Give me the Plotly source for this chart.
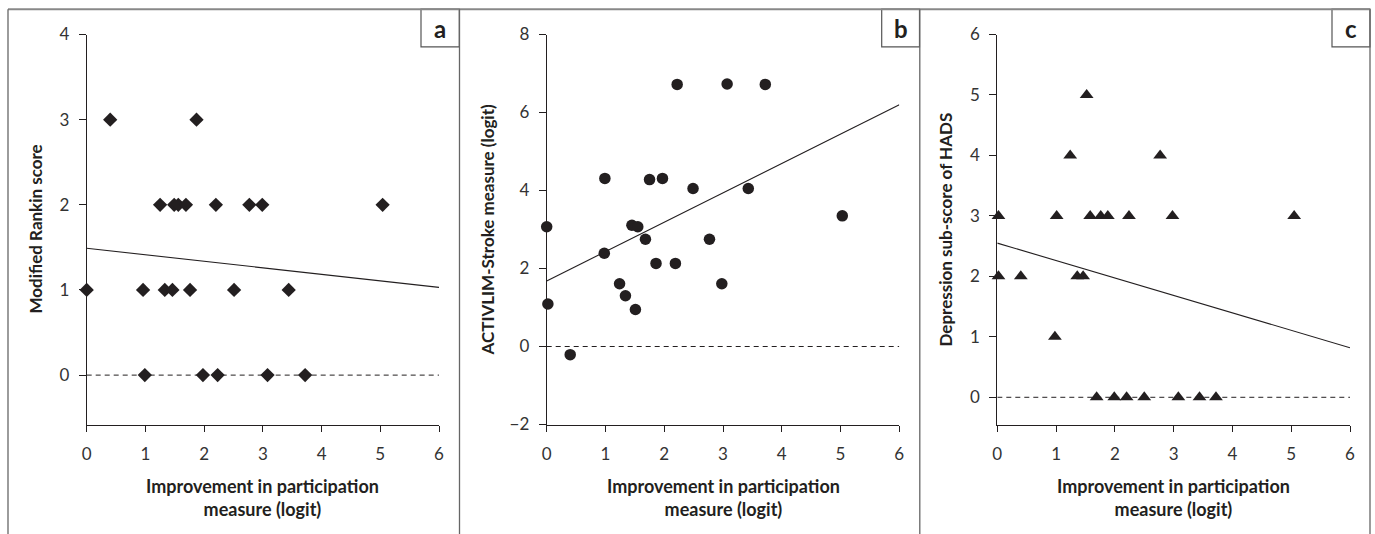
import plotly.graph_objects as go

W, H = 1375, 534

# ---------------- data ----------------
a_x = [0.00, 0.40, 1.87, 1.25, 1.49, 1.56, 1.69, 2.20, 2.77, 2.99, 5.04,
       0.96, 1.33, 1.46, 1.76, 2.51, 3.44, 0.99, 1.98, 2.23, 3.08, 3.72]
a_y = [1, 3, 3, 2, 2, 2, 2, 2, 2, 2, 2,
       1, 1, 1, 1, 1, 1, 0, 0, 0, 0, 0]

b_x = [2.22, 3.07, 3.72, 0.99, 1.75, 1.97, 2.49, 3.43, 5.03, 0.00, 1.45, 1.55,
       1.68, 2.77, 0.98, 1.86, 2.19, 1.24, 2.98, 1.34, 1.51, 0.02, 0.40]
b_y = [6.72, 6.73, 6.72, 4.31, 4.28, 4.31, 4.05, 4.05, 3.35, 3.07, 3.11, 3.07,
       2.75, 2.75, 2.39, 2.13, 2.13, 1.61, 1.61, 1.30, 0.95, 1.09, -0.21]

c_x = [0.02, 1.01, 1.58, 1.76, 1.88, 2.24, 2.98, 5.05, 1.52, 1.24, 2.77,
       0.02, 0.40, 1.36, 1.46, 0.98, 1.69, 1.99, 2.20, 2.50, 3.08, 3.44, 3.72]
c_y = [3, 3, 3, 3, 3, 3, 3, 3, 5, 4, 4,
       2, 2, 2, 2, 1, 0, 0, 0, 0, 0, 0, 0]

trend_x = [0, 6]
trend_a = [1.49, 1.03]
trend_b = [1.68, 6.20]
trend_c = [2.55, 0.82]
zero_y = [0, 0]

panel_letters = ["a", "b", "c"]
y_titles = ["Modified Rankin score", "ACTIVLIM-Stroke measure (logit)",
            "Depression sub-score of HADS"]
x_title = "Improvement in participation<br>measure (logit)"
x_ticks = [0, 1, 2, 3, 4, 5, 6]

# ---------------- styling ----------------
INK = "#231f20"
FONT = "Lato"

def px_x(p):
    return p / W

def px_y(p):
    return 1 - p / H

YD = (34.5, 424.5)
panels = [
    dict(x=a_x, y=a_y, trend=trend_a, symbol="diamond", size=11,
         xd=(86.7, 439.0), yr=[-0.58, 4], dt=1,
         ytitle_x=35, letter_box=(421, 459.3)),
    dict(x=b_x, y=b_y, trend=trend_b, symbol="circle", size=11.5,
         xd=(546.7, 899.3), yr=[-2, 8], dt=2,
         ytitle_x=487, letter_box=(881.7, 919.5)),
    dict(x=c_x, y=c_y, trend=trend_c, symbol="triangle-up", size=12,
         xd=(997.3, 1350.0), yr=[-0.45, 6], dt=1,
         ytitle_x=945, letter_box=(1332, 1370)),
]

fig = go.Figure()
layout = dict(
    template="none",
    width=W, height=H, autosize=False,
    margin=dict(l=0, r=0, t=0, b=0, pad=0, autoexpand=False),
    paper_bgcolor="white", plot_bgcolor="white",
    showlegend=False,
    font=dict(family=FONT, color=INK, size=16),
)
annotations = []
shapes = []

for i, p in enumerate(panels):
    n = "" if i == 0 else str(i + 1)
    xa, ya = "x" + n, "y" + n
    fig.add_trace(go.Scatter(x=trend_x, y=zero_y, mode="lines", xaxis=xa, yaxis=ya,
                             line=dict(color=INK, width=1, dash="5px,4px"),
                             hoverinfo="skip"))
    fig.add_trace(go.Scatter(x=trend_x, y=p["trend"], mode="lines", xaxis=xa, yaxis=ya,
                             line=dict(color=INK, width=1.1), hoverinfo="skip"))
    fig.add_trace(go.Scatter(x=p["x"], y=p["y"], mode="markers", xaxis=xa, yaxis=ya,
                             cliponaxis=False,
                             marker=dict(symbol=p["symbol"], size=p["size"],
                                         color=INK, line=dict(width=0))))
    axis_common = dict(showgrid=False, zeroline=False, showline=True,
                       automargin=False,
                       linecolor=INK, linewidth=1, ticks="outside",
                       tickcolor=INK, tickwidth=1,
                       tickfont=dict(family=FONT, size=17, color="#333333"))
    layout["xaxis" + n] = dict(
        axis_common, domain=[px_x(p["xd"][0]), px_x(p["xd"][1])],
        range=[0, 6], tickvals=x_ticks, ticklen=6, anchor=ya,
        ticklabelstandoff=8,
    )
    layout["yaxis" + n] = dict(
        axis_common, domain=[px_y(YD[1]), px_y(YD[0])],
        range=p["yr"], tick0=0, dtick=p["dt"], ticklen=7, anchor=xa,
        ticklabelstandoff=6,
    )
    annotations.append(dict(
        text="<b>" + y_titles[i] + "</b>", textangle=-90,
        x=px_x(p["ytitle_x"]), y=px_y((YD[0] + YD[1]) / 2),
        xref="paper", yref="paper", showarrow=False,
        xanchor="center", yanchor="middle",
        font=dict(family=FONT, size=17, color=INK)))
    annotations.append(dict(
        text="<b>" + x_title + "</b>",
        x=px_x((p["xd"][0] + p["xd"][1]) / 2), y=px_y(498),
        xref="paper", yref="paper", showarrow=False,
        xanchor="center", yanchor="middle",
        font=dict(family=FONT, size=18, color=INK)))
    lx0, lx1 = p["letter_box"]
    shapes.append(dict(type="rect", xref="paper", yref="paper",
                       x0=px_x(lx0), x1=px_x(lx1), y0=px_y(46.8), y1=px_y(9.2),
                       line=dict(color="#555555", width=1.2), fillcolor="white"))
    annotations.append(dict(
        text="<b>" + panel_letters[i] + "</b>",
        x=px_x((lx0 + lx1) / 2), y=px_y(28),
        xref="paper", yref="paper", showarrow=False,
        xanchor="center", yanchor="middle",
        font=dict(family=FONT, size=24, color=INK)))

shapes.append(dict(type="line", xref="paper", yref="paper",
                   x0=px_x(8), x1=px_x(1370), y0=px_y(9.2), y1=px_y(9.2),
                   line=dict(color="#888888", width=2)))
for xv in [8, 459.5, 919.8, 1370]:
    shapes.append(dict(type="line", xref="paper", yref="paper",
                       x0=px_x(xv), x1=px_x(xv), y0=px_y(9.2), y1=0,
                       line=dict(color="#666666", width=1.3)))

layout["annotations"] = annotations
layout["shapes"] = shapes
fig.update_layout(**layout)
fig.write_html("out.html",
               config={"displayModeBar": False},
               post_script="document.body.style.margin='0';"
                           "document.body.style.overflow='hidden';")
